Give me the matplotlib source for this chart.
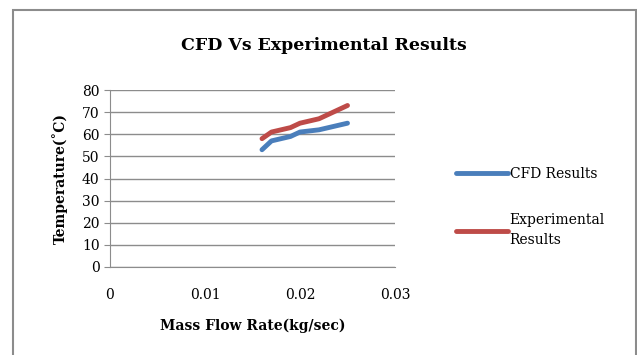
import matplotlib.pyplot as plt
from matplotlib.patches import Rectangle

# values
mass_flow = [0.016, 0.017, 0.018, 0.019, 0.020, 0.022, 0.023, 0.025]
cfd_temp = [53, 57, 58, 59, 61, 62, 63, 65]
exp_temp = [58, 61, 62, 63, 65, 67, 69, 73]
y_ticks = [0, 10, 20, 30, 40, 50, 60, 70, 80]
x_ticks = [0, 0.01, 0.02, 0.03]
x_labels = ['0', '0.01', '0.02', '0.03']

plt.rcParams['font.family'] = ['DejaVu Serif']

fig = plt.figure(figsize=(6.37, 3.55), dpi=100)
ax = fig.add_axes([110 / 637, 1 - 267 / 355, (395 - 110) / 637, (267 - 90) / 355])

# chart border
fig.patches.append(Rectangle((13 / 637, -0.01), 1 - 14 / 637, 1 - 10 / 355 + 0.01,
                             transform=fig.transFigure, fill=False,
                             edgecolor='#8c8c8c', linewidth=1.5))

ax.plot(mass_flow, cfd_temp, color='#4a7ebb', lw=3.5, solid_capstyle='round',
        label='CFD Results')
ax.plot(mass_flow, exp_temp, color='#be4b48', lw=3.5, solid_capstyle='round',
        label='Experimental\nResults')

ax.set_xlim(0, 0.03)
ax.set_ylim(0, 80)
ax.set_xticks(x_ticks)
ax.set_xticklabels(x_labels)
ax.set_yticks(y_ticks)
ax.yaxis.grid(True, color='#8c8c8c', lw=1)
ax.set_axisbelow(True)
for s in ['top', 'right']:
    ax.spines[s].set_visible(False)
for s in ['left', 'bottom']:
    ax.spines[s].set_color('#8c8c8c')
ax.tick_params(axis='x', length=0, pad=15, labelsize=10)
ax.tick_params(axis='y', length=4, color='#8c8c8c', labelsize=10)

fig.text(324 / 637, 1 - 46 / 355, 'CFD Vs Experimental Results', fontsize=12.5,
         fontweight='heavy', ha='center', va='center')
ax.set_xlabel('Mass Flow Rate(kg/sec)', fontsize=10, fontweight='bold', labelpad=12)
ax.set_ylabel('Temperature(\u02daC)', fontsize=10, fontweight='bold', labelpad=10)

leg = fig.legend(loc='center left', bbox_to_anchor=(443 / 637, 1 - 207 / 355),
                 frameon=False, fontsize=10, handlelength=3.8, handletextpad=0.1,
                 labelspacing=2.3)
for t in leg.get_texts():
    t.set_linespacing(1.5)

fig.savefig('out.png', dpi=100)
